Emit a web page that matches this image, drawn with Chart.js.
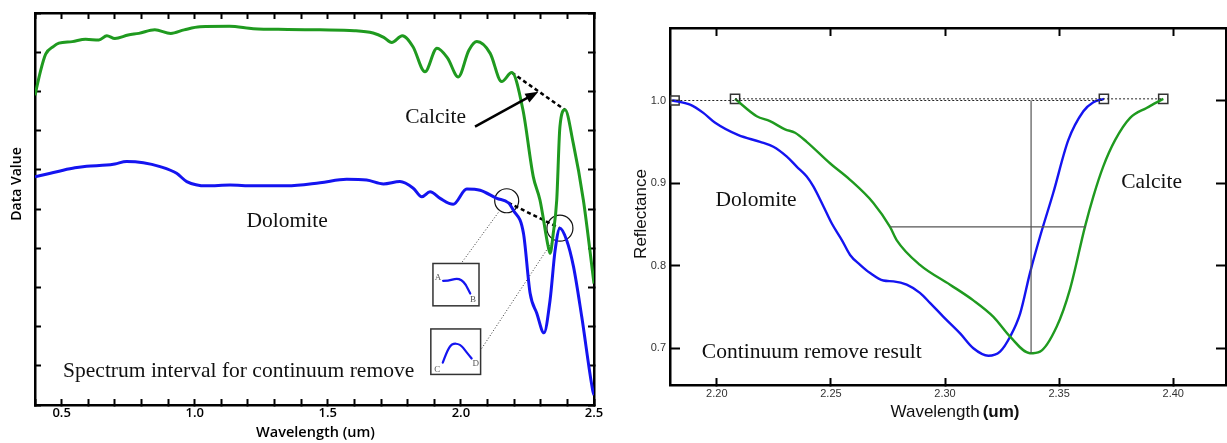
<!DOCTYPE html>
<html>
<head>
<meta charset="utf-8">
<script src="https://cdn.jsdelivr.net/npm/chart.js@4.4.1/dist/chart.umd.min.js"></script>
<style>
  html, body { margin: 0; padding: 0; background: #fff; }
  #wrap { position: relative; width: 1227px; height: 443px; overflow: hidden; }
  #left { position: absolute; left: 0; top: 0; }
  #right { position: absolute; left: 610px; top: 0; }
</style>
</head>
<body>
<div id="wrap">
  <canvas id="left" width="610" height="443"></canvas>
  <canvas id="right" width="617" height="443"></canvas>
</div>
<script>
// --- left panel: full spectra (wavelength um, data value) ---
const calciteWl  = [0.40, 0.42, 0.44, 0.47, 0.49, 0.54, 0.59, 0.64, 0.67, 0.70, 0.75, 0.79, 0.85, 0.91, 0.96, 1.02, 1.13, 1.22, 1.35, 1.47, 1.60, 1.67, 1.71, 1.74, 1.78, 1.82, 1.865, 1.91, 1.95, 1.99, 2.03, 2.06, 2.11, 2.153, 2.191, 2.233, 2.272, 2.297, 2.328, 2.335, 2.347, 2.36, 2.372, 2.391, 2.422, 2.46, 2.50];
const calciteVal = [7.90, 8.50, 8.95, 9.15, 9.23, 9.27, 9.33, 9.31, 9.42, 9.35, 9.44, 9.48, 9.57, 9.48, 9.57, 9.65, 9.66, 9.60, 9.58, 9.57, 9.55, 9.49, 9.38, 9.25, 9.42, 9.14, 8.50, 9.10, 8.85, 8.37, 9.05, 9.27, 8.97, 8.25, 8.48, 7.53, 5.82, 5.23, 4.04, 3.87, 4.38, 5.23, 7.10, 7.53, 6.68, 5.23, 3.10];

const dolomiteWl  = [0.40, 0.45, 0.506, 0.55, 0.594, 0.669, 0.70, 0.744, 0.807, 0.870, 0.932, 0.97, 1.045, 1.133, 1.219, 1.346, 1.471, 1.571, 1.646, 1.709, 1.771, 1.821, 1.853, 1.884, 1.922, 1.971, 2.022, 2.072, 2.135, 2.178, 2.197, 2.235, 2.26, 2.285, 2.312, 2.335, 2.354, 2.372, 2.397, 2.423, 2.454, 2.495, 2.50];
const dolomiteVal = [5.82, 5.90, 5.99, 6.05, 6.09, 6.12, 6.15, 6.21, 6.18, 6.08, 5.91, 5.70, 5.59, 5.61, 5.59, 5.59, 5.67, 5.76, 5.74, 5.64, 5.70, 5.53, 5.31, 5.44, 5.27, 5.12, 5.51, 5.48, 5.27, 5.16, 4.97, 4.38, 2.85, 2.34, 1.84, 2.68, 3.95, 4.51, 4.21, 3.53, 2.25, 0.38, 0.25];

// continuum hull segments
const calciteHullWl  = [2.191, 2.391];
const calciteHullVal = [8.48, 7.53];
const dolomiteHullWl  = [2.178, 2.372];
const dolomiteHullVal = [5.16, 4.51];

// zoom circles and leader lines to the insets
const circleWl  = [2.172, 2.372];
const circleVal = [5.21, 4.51];
const leaderAWl  = [2.147, 2.003];
const leaderAVal = [4.97, 3.63];
const leaderBWl  = [2.347, 2.074];
const leaderBVal = [4.21, 1.40];

const leftXLabels = [0.5, 1.0, 1.5, 2.0, 2.5];

// --- right panel: continuum removed (wavelength um, reflectance) ---
const crDolomiteWl  = [2.1805, 2.1883, 2.1941, 2.1993, 2.2095, 2.219, 2.2248, 2.2307, 2.235, 2.2394, 2.2423, 2.2467, 2.2504, 2.2548, 2.2584, 2.2628, 2.2672, 2.273, 2.2774, 2.2832, 2.289, 2.2934, 2.2993, 2.3066, 2.3124, 2.319, 2.3241, 2.3285, 2.3329, 2.3372, 2.3416, 2.3474, 2.354, 2.3606, 2.365, 2.3696];
const crDolomiteVal = [1.000, 0.995, 0.985, 0.973, 0.958, 0.950, 0.944, 0.932, 0.920, 0.908, 0.896, 0.872, 0.851, 0.831, 0.813, 0.801, 0.791, 0.782, 0.781, 0.777, 0.767, 0.755, 0.738, 0.718, 0.700, 0.691, 0.696, 0.714, 0.742, 0.791, 0.835, 0.888, 0.952, 0.987, 0.998, 1.002];

const crCalciteWl  = [2.208, 2.2175, 2.2233, 2.2299, 2.2343, 2.2394, 2.2496, 2.2584, 2.2686, 2.2759, 2.2788, 2.289, 2.3022, 2.3124, 2.3212, 2.3285, 2.3372, 2.3416, 2.3489, 2.3547, 2.3613, 2.365, 2.3693, 2.3745, 2.3811, 2.3883, 2.3956];
const crCalciteVal = [1.002, 0.981, 0.975, 0.965, 0.961, 0.950, 0.924, 0.904, 0.876, 0.847, 0.831, 0.801, 0.777, 0.758, 0.738, 0.714, 0.694, 0.696, 0.726, 0.771, 0.847, 0.884, 0.920, 0.952, 0.979, 0.991, 1.002];

const bandEndsWl  = [2.1815, 2.208, 2.3696, 2.3956];
const bandEndsVal = [1.000, 1.002, 1.002, 1.002];
const dolHullWl  = [2.1805, 2.3696];
const dolHullVal = [1.000, 1.000];
const calHullWl  = [2.208, 2.3956];
const calHullVal = [1.002, 1.002];
const depthWl  = [2.3377, 2.3377];
const depthVal = [1.000, 0.694];
const widthWl  = [2.2759, 2.3618];
const widthVal = [0.847, 0.847];

const GREEN = "#1f9a1f";
const BLUE = "#1414f0";
const SERIF = "'Liberation Serif', 'Times New Roman', serif";
const SANS = "'Open Sans', sans-serif";
const ARIAL = "'Liberation Sans', Arial, sans-serif";

const pts = (xs, ys) => xs.map((x, i) => ({ x: x, y: ys[i] }));

function spectrum(data, color, width) {
    return { data: data, borderColor: color, borderWidth: width, pointRadius: 0,
             cubicInterpolationMode: "monotone", fill: false };
}
function segment(data, color, width, dash) {
    return { data: data, borderColor: color, borderWidth: width, borderDash: dash,
             pointRadius: 0, tension: 0, fill: false };
}

// pin axis box size and drop the label overflow padding
function fixSize(size) {
    return function (scale) {
        if (scale.isHorizontal()) scale.height = size; else scale.width = size;
        scale.paddingLeft = 0; scale.paddingRight = 0;
        scale.paddingTop = 0; scale.paddingBottom = 0;
    };
}

function edgeAxis(position, min, max, step, tick, size, extra) {
    const ax = {
        type: "linear", position: position, min: min, max: max,
        ticks: { display: false, stepSize: step, autoSkip: false, includeBounds: false },
        grid: { drawOnChartArea: false, drawTicks: true, tickLength: -tick, tickWidth: 2, tickColor: "#000" },
        border: { display: true, color: "#000", width: 2.5 },
        afterFit: fixSize(size)
    };
    return Object.assign(ax, extra || {});
}

function text(ctx, str, x, y, font, color, rot) {
    ctx.save();
    ctx.font = font;
    ctx.fillStyle = color || "#111";
    ctx.textAlign = "center";
    ctx.textBaseline = "middle";
    ctx.translate(x, y);
    if (rot) ctx.rotate(rot);
    ctx.fillText(str, 0, 0);
    ctx.restore();
}

// ---------- left chart ----------
const insets = [
    { wl: [1.895, 2.068], val: [3.61, 2.53],
      curve: [[0.22, 0.41], [0.33, 0.41], [0.51, 0.35], [0.62, 0.39], [0.71, 0.49], [0.81, 0.71]],
      labels: [["A", 0.11, 0.33], ["B", 0.87, 0.85]] },
    { wl: [1.887, 2.074], val: [1.94, 0.78],
      curve: [[0.24, 0.74], [0.32, 0.50], [0.42, 0.32], [0.59, 0.33], [0.71, 0.50], [0.82, 0.65]],
      labels: [["C", 0.13, 0.89], ["D", 0.90, 0.77]] }
];

const leftNotes = {
    id: "leftNotes",
    afterDatasetsDraw(chart) {
        const ctx = chart.ctx, sx = chart.scales.x, sy = chart.scales.y;
        const px = v => sx.getPixelForValue(v), py = v => sy.getPixelForValue(v);

        text(ctx, "Calcite", px(1.905), py(7.34), "21.5px " + SERIF);
        text(ctx, "Dolomite", px(1.347), py(4.68), "21.5px " + SERIF);
        text(ctx, "Spectrum interval for continuum remove", px(1.165), py(0.85), "21.5px " + SERIF);

        // arrow pointing at the calcite hull
        const x0 = px(2.053), y0 = py(7.10), x1 = px(2.291), y1 = py(7.99);
        const ang = Math.atan2(y1 - y0, x1 - x0);
        ctx.save();
        ctx.strokeStyle = "#000"; ctx.fillStyle = "#000"; ctx.lineWidth = 2.5;
        ctx.beginPath();
        ctx.moveTo(x0, y0);
        ctx.lineTo(x1 - 9 * Math.cos(ang), y1 - 9 * Math.sin(ang));
        ctx.stroke();
        ctx.beginPath();
        ctx.moveTo(x1, y1);
        ctx.lineTo(x1 - 13 * Math.cos(ang) + 5 * Math.sin(ang), y1 - 13 * Math.sin(ang) - 5 * Math.cos(ang));
        ctx.lineTo(x1 - 13 * Math.cos(ang) - 5 * Math.sin(ang), y1 - 13 * Math.sin(ang) + 5 * Math.cos(ang));
        ctx.closePath();
        ctx.fill();
        ctx.restore();

        // inset boxes
        insets.forEach(b => {
            const l = px(b.wl[0]), r = px(b.wl[1]), t = py(b.val[0]), bt = py(b.val[1]);
            const w = r - l, h = bt - t;
            ctx.save();
            ctx.strokeStyle = "#333"; ctx.lineWidth = 1.5;
            ctx.strokeRect(l, t, w, h);
            ctx.strokeStyle = BLUE; ctx.lineWidth = 2.2; ctx.lineJoin = "round"; ctx.lineCap = "round";
            ctx.beginPath();
            const c = b.curve.map(p => [l + p[0] * w, t + p[1] * h]);
            ctx.moveTo(c[0][0], c[0][1]);
            for (let i = 1; i < c.length - 1; i++) {
                const mx = (c[i][0] + c[i + 1][0]) / 2, my = (c[i][1] + c[i + 1][1]) / 2;
                ctx.quadraticCurveTo(c[i][0], c[i][1], mx, my);
            }
            ctx.lineTo(c[c.length - 1][0], c[c.length - 1][1]);
            ctx.stroke();
            ctx.restore();
            b.labels.forEach(s => text(ctx, s[0], l + s[1] * w, t + s[2] * h, "9px " + SERIF, "#555"));
        });

        // axis titles
        text(ctx, "Data Value", 17.5, 184, "600 14px " + SANS, "#000", -Math.PI / 2);
        text(ctx, "Wavelength (um)", (chart.chartArea.left + chart.chartArea.right) / 2 + 1, 433, "600 14.5px " + SANS, "#000");
    }
};

new Chart(document.getElementById("left"), {
    type: "line",
    data: {
        datasets: [
            spectrum(pts(calciteWl, calciteVal), GREEN, 3),
            spectrum(pts(dolomiteWl, dolomiteVal), BLUE, 3),
            segment(pts(calciteHullWl, calciteHullVal), "#000", 2.5, [4, 3]),
            segment(pts(dolomiteHullWl, dolomiteHullVal), "#000", 2.5, [4, 3]),
            segment(pts(leaderAWl, leaderAVal), "#333", 1, [1, 2]),
            segment(pts(leaderBWl, leaderBVal), "#333", 1, [1, 2]),
            { data: pts(circleWl, circleVal), showLine: false, pointRadius: [12, 13], pointHoverRadius: 0,
              pointBorderColor: "#111", pointBorderWidth: 1.2, pointBackgroundColor: "rgba(0,0,0,0)" }
        ]
    },
    options: {
        responsive: false,
        animation: false,
        events: [],
        layout: { autoPadding: false, padding: { left: 0, right: 16, top: 13, bottom: 0 } },
        plugins: { legend: { display: false }, tooltip: { enabled: false } },
        scales: {
            x: edgeAxis("bottom", 0.4, 2.5, 0.1, 6, 38, {
                ticks: {
                    display: true, stepSize: 0.1, autoSkip: false, maxRotation: 0, padding: 6,
                    font: { family: SANS, size: 13, weight: "600" }, color: "#000",
                    callback: v => leftXLabels.some(t => Math.abs(t - v) < 1e-6) ? v.toFixed(1) : ""
                }
            }),
            x2: edgeAxis("top", 0.4, 2.5, 0.1, 6, 0),
            y: edgeAxis("left", 0, 10, 1, 6, 35),
            y2: edgeAxis("right", 0, 10, 1, 6, 0)
        }
    },
    plugins: [leftNotes]
});

// ---------- right chart ----------
const rightNotes = {
    id: "rightNotes",
    afterDatasetsDraw(chart) {
        const ctx = chart.ctx, sx = chart.scales.x, sy = chart.scales.y;
        const px = v => sx.getPixelForValue(v), py = v => sy.getPixelForValue(v);
        text(ctx, "Dolomite", px(2.2172), py(0.879), "21.5px " + SERIF);
        text(ctx, "Continuum remove result", px(2.2416), py(0.695), "21.5px " + SERIF);
        text(ctx, "Calcite", px(2.3905), py(0.901), "21.5px " + SERIF);

        text(ctx, "Reflectance", 31, 214, "17px " + ARIAL, "#111", -Math.PI / 2);

        // axis title: regular word + bold unit
        ctx.save();
        ctx.fillStyle = "#111";
        ctx.textBaseline = "middle";
        ctx.textAlign = "left";
        ctx.font = "17px " + ARIAL;
        const w1 = ctx.measureText("Wavelength").width;
        ctx.font = "bold 17px " + ARIAL;
        const w2 = ctx.measureText("(um)").width;
        const start = (chart.chartArea.left + chart.chartArea.right) / 2 + 7 - (w1 + 3 + w2) / 2;
        ctx.font = "17px " + ARIAL;
        ctx.fillText("Wavelength", start, 412);
        ctx.font = "bold 17px " + ARIAL;
        ctx.fillText("(um)", start + w1 + 3, 412);
        ctx.restore();
    }
};

new Chart(document.getElementById("right"), {
    type: "line",
    data: {
        datasets: [
            segment(pts(dolHullWl, dolHullVal), "#222", 1, [2, 2]),
            segment(pts(calHullWl, calHullVal), "#222", 1, [2, 2]),
            segment(pts(depthWl, depthVal), "#555", 1.2, []),
            segment(pts(widthWl, widthVal), "#555", 1.2, []),
            spectrum(pts(crCalciteWl, crCalciteVal), GREEN, 2.4),
            spectrum(pts(crDolomiteWl, crDolomiteVal), BLUE, 2.4),
            { data: pts(bandEndsWl, bandEndsVal), showLine: false, pointStyle: "rect", pointRadius: 6.5,
              pointHoverRadius: 0, pointBorderColor: "#333", pointBorderWidth: 1.5,
              pointBackgroundColor: "rgba(255,255,255,0.3)" }
        ]
    },
    options: {
        responsive: false,
        animation: false,
        events: [],
        layout: { autoPadding: false, padding: { left: 0, right: 1, top: 28, bottom: 0 } },
        plugins: { legend: { display: false }, tooltip: { enabled: false } },
        scales: {
            x: edgeAxis("bottom", 2.1795, 2.4231, 0.05, 7, 58, {
                ticks: {
                    display: true, stepSize: 0.05, autoSkip: false, includeBounds: false, maxRotation: 0, padding: 9,
                    font: { family: ARIAL, size: 11 }, color: "#333",
                    callback: v => v.toFixed(2)
                }
            }),
            x2: edgeAxis("top", 2.1795, 2.4231, 0.05, 8, 0),
            y: edgeAxis("left", 0.6555, 1.0878, 0.1, 10, 60, {
                ticks: {
                    display: true, stepSize: 0.1, autoSkip: false, includeBounds: false, padding: 14,
                    font: { family: ARIAL, size: 11 }, color: "#333",
                    callback: v => v.toFixed(1)
                }
            }),
            y2: edgeAxis("right", 0.6555, 1.0878, 0.1, 10, 0)
        }
    },
    plugins: [rightNotes]
});
</script>
</body>
</html>
